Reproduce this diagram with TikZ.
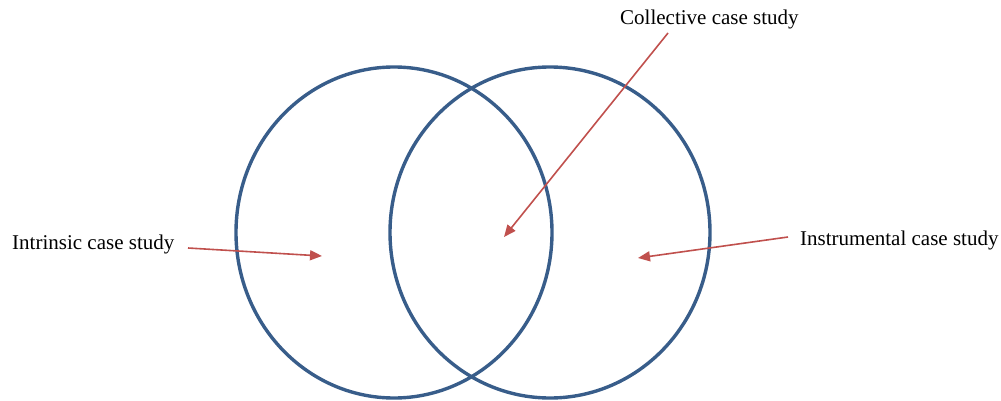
\documentclass[tikz,border=0pt]{standalone}
\usepackage{fontspec}
\setmainfont{Liberation Serif}
\usetikzlibrary{arrows.meta}
\definecolor{vennblue}{RGB}{56,93,138}
\definecolor{pointred}{RGB}{192,80,77}
\tikzset{
   venn/.style={draw=vennblue, line width=3.4pt},
   pointer/.style={draw=pointred, line width=1.6pt,
      -{Triangle[length=12pt,width=10pt,fill=pointred]}},
   casetext/.style={inner sep=0pt, anchor=base west,
      font=\fontsize{21}{25}\selectfont},
    }

\begin{document}
\begin{tikzpicture}[x=1pt,y=-1pt]
            \useasboundingbox (0,0) rectangle (1001,401);
            \draw[venn] (394,232.5) ellipse (158pt and 165.5pt);
            \draw[venn] (550,232.5) ellipse (160pt and 165.5pt);
            \node[casetext] (intrinsic) at (12,249) {Intrinsic case study};
            \node[casetext] (collective) at (620,25) {Collective case study};
            \node[casetext] (instrumental) at (800,245) {Instrumental case study};
            \coordinate (intrinsic-from) at (188,248);
            \coordinate (intrinsic-to) at (322,256);
            \coordinate (collective-from) at (668,33);
            \coordinate (collective-to) at (504,237);
            \coordinate (instrumental-from) at (788,237);
            \coordinate (instrumental-to) at (638,258);
            \draw[pointer](intrinsic-from)to(intrinsic-to);
            \draw[pointer](collective-from)to(collective-to);
            \draw[pointer](instrumental-from)to(instrumental-to);
        \end{tikzpicture}
\end{document}
